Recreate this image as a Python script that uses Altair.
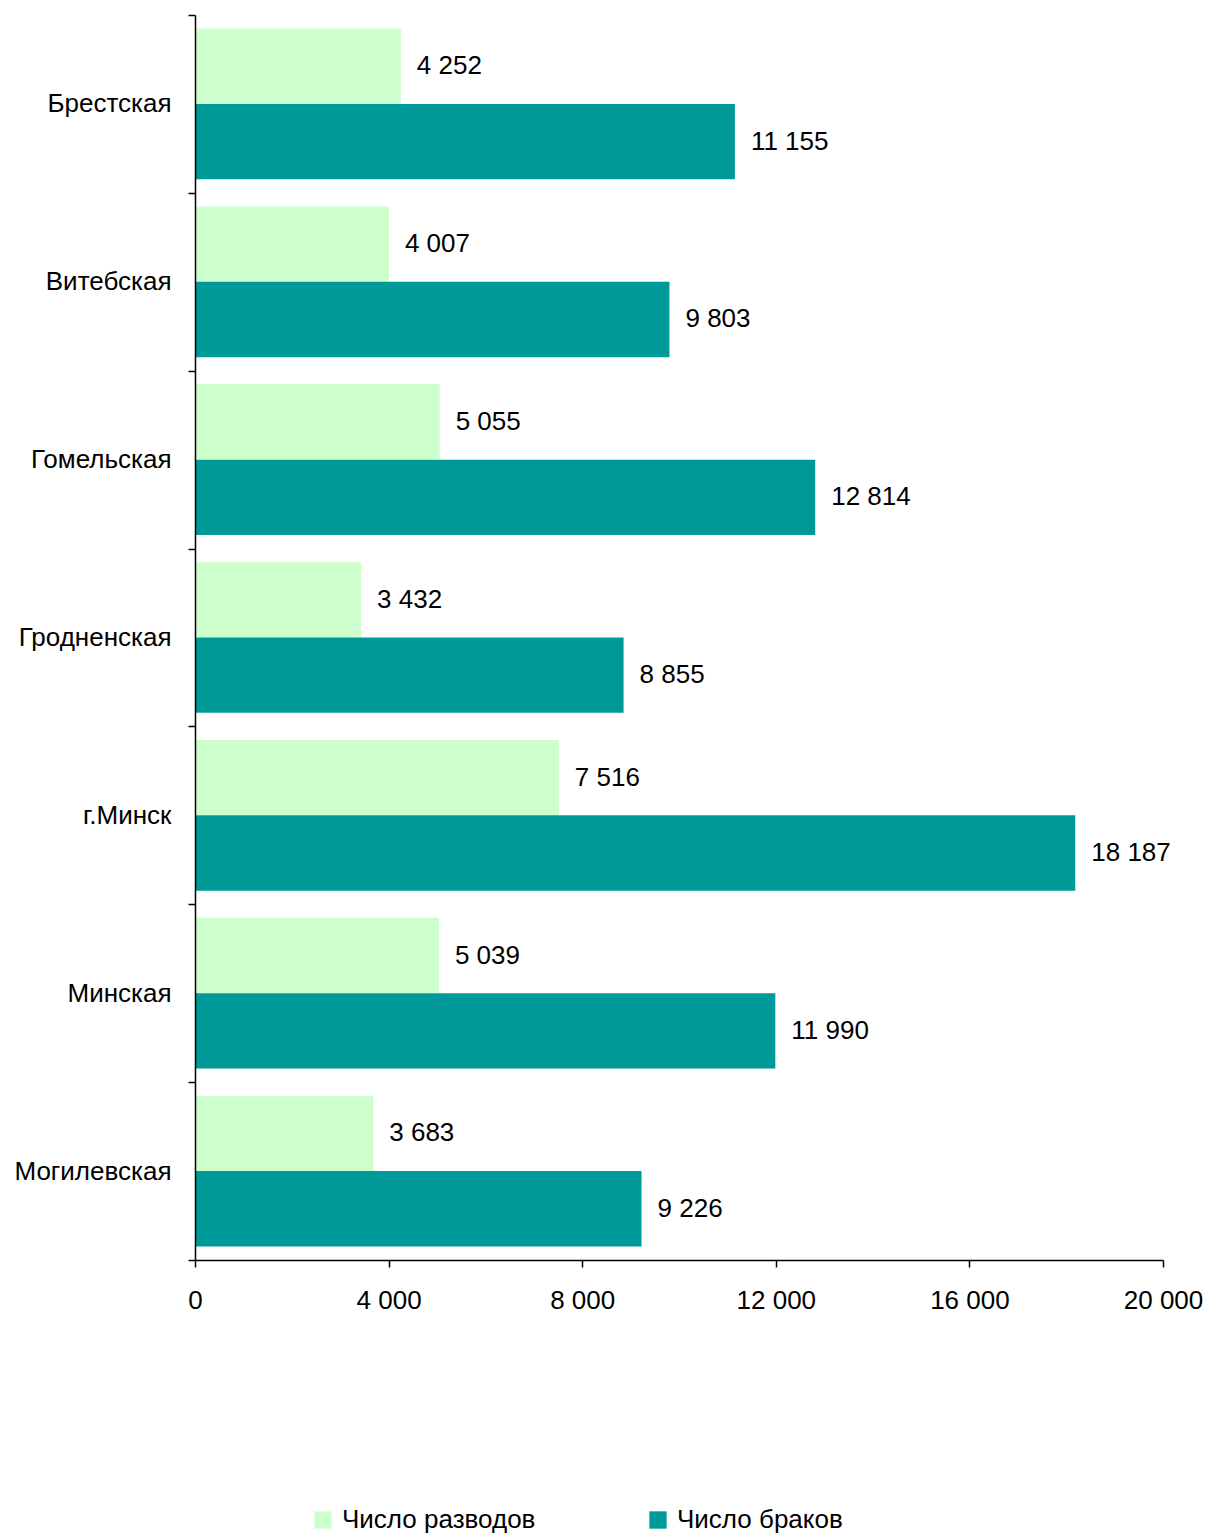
import altair as alt
import pandas as pd

regions = ["Брестская", "Витебская", "Гомельская", "Гродненская", "г.Минск", "Минская", "Могилевская"]
divorces = [4252, 4007, 5055, 3432, 7516, 5039, 3683]
marriages = [11155, 9803, 12814, 8855, 18187, 11990, 9226]
series = ["Число разводов", "Число браков"]
colors = ["#CCFFCC", "#009999"]
x_ticks = [0, 4000, 8000, 12000, 16000, 20000]

rows = []
for r, d, m in zip(regions, divorces, marriages):
    rows.append({"region": r, "series": series[0], "value": d})
    rows.append({"region": r, "series": series[1], "value": m})
df = pd.DataFrame(rows)
df["label"] = df["value"].map(lambda v: f"{v:,}".replace(",", " "))

font = "Liberation Sans"
fs = 26

y_enc = alt.Y("region:N", sort=regions,
              scale=alt.Scale(paddingInner=0, paddingOuter=0),
              axis=alt.Axis(title=None, tickBand="extent", labelFontSize=fs, labelFont=font,
                            labelColor="black", domainColor="black", tickColor="black",
                            tickSize=7, labelPadding=17, domainWidth=1.5, tickWidth=1.5,
                            zindex=1))
yoff = alt.YOffset("series:N", sort=series,
                   scale=alt.Scale(paddingInner=0.0, paddingOuter=0.18))

base = alt.Chart(df).encode(
    y=y_enc,
    yOffset=yoff,
)

bars = base.mark_bar().encode(
    x=alt.X("value:Q", scale=alt.Scale(domain=[0, 20000], nice=False),
            axis=alt.Axis(title=None, values=x_ticks, grid=False, labelFlush=False,
                          labelExpr="replace(format(datum.value, ','), ',', ' ')",
                          labelFontSize=fs, labelFont=font, labelColor="black",
                          domainColor="black", tickColor="black", tickSize=7,
                          labelPadding=20, domainWidth=1.5, tickWidth=1.5, zindex=1)),
    color=alt.Color("series:N", sort=series,
                    scale=alt.Scale(domain=series, range=colors),
                    legend=alt.Legend(title=None, orient="none", direction="horizontal",
                                      legendX=115, legendY=1492, symbolType="square",
                                      symbolSize=300, symbolStrokeWidth=0, labelFontSize=fs,
                                      labelFont=font, labelColor="black", columnPadding=109,
                                      labelOffset=6, labelLimit=400)),
)

text = base.mark_text(align="left", dx=16, fontSize=fs, font=font, color="black").encode(
    x="value:Q",
    text="label:N",
)

chart = (bars + text).properties(
    width=968, height=1245,
    autosize=alt.AutoSizeParams(type="none"),
    padding={"left": 187, "top": 7, "right": 40, "bottom": 280},
).configure(background="white").configure_view(strokeWidth=0)

chart.save("out.html", embed_options={"renderer": "svg", "actions": False})
